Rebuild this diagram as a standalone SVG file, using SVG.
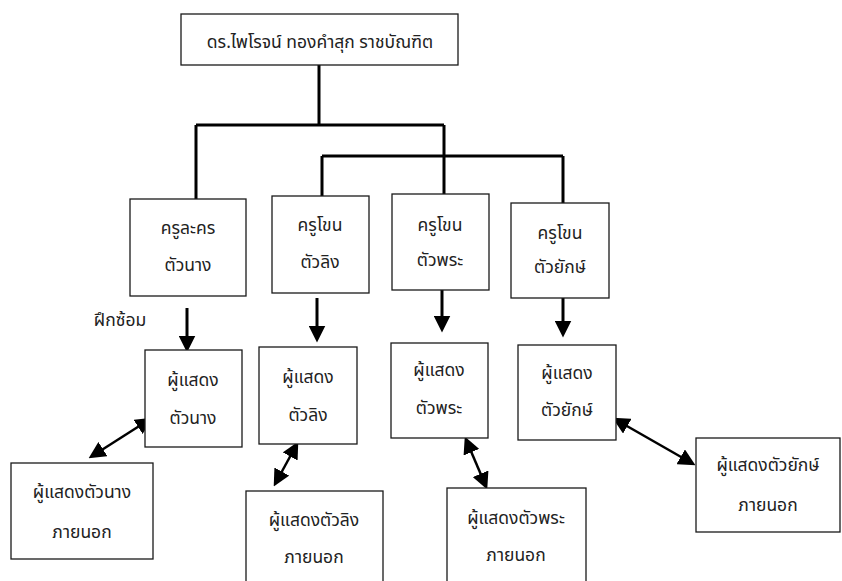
<svg xmlns="http://www.w3.org/2000/svg" width="842" height="581" viewBox="0 0 842 581">
<style>
.box{fill:#fff;stroke:#1a1a1a;stroke-width:1.3}
.t{font-family:"Noto Sans Thai","Noto Sans","DejaVu Sans",sans-serif;font-size:17.5px;fill:#222;text-anchor:middle;dominant-baseline:central}
.thick{fill:none;stroke:#000;stroke-width:3}
.arr{fill:none;stroke:#000;stroke-width:3}
.dbl{fill:none;stroke:#000;stroke-width:2.5}
</style>
<defs>
<marker id="ah" viewBox="0 0 16 16" refX="8" refY="8" markerWidth="17" markerHeight="17" markerUnits="userSpaceOnUse" orient="auto-start-reverse">
<path d="M0,0 L16,8 L0,16 z" fill="#000"/>
</marker>
</defs>
<rect width="842" height="581" fill="#fff"/>
<g id="connectors">
<path class="thick" d="M319,65 V125 M196,125 H444 M196,125 V199 M444,125 V194 M322,156 H563 M322,156 V196 M563,156 V203"/>
<line class="arr" x1="187" y1="308" x2="187" y2="344" marker-end="url(#ah)"/>
<line class="arr" x1="317" y1="298" x2="317" y2="334" marker-end="url(#ah)"/>
<line class="arr" x1="442" y1="288" x2="442" y2="324" marker-end="url(#ah)"/>
<line class="arr" x1="563" y1="293" x2="563" y2="329" marker-end="url(#ah)"/>
<line class="dbl" x1="145.2" y1="422.3" x2="95.8" y2="453.7" marker-start="url(#ah)" marker-end="url(#ah)"/>
<line class="dbl" x1="294.2" y1="449" x2="277.8" y2="479" marker-start="url(#ah)" marker-end="url(#ah)"/>
<line class="dbl" x1="468.1" y1="444.4" x2="483.9" y2="481.6" marker-start="url(#ah)" marker-end="url(#ah)"/>
<line class="dbl" x1="619.9" y1="422" x2="688.1" y2="461" marker-start="url(#ah)" marker-end="url(#ah)"/>
</g>
<g id="n-top"><rect class="box" x="181" y="14" width="277" height="51"/><text class="t" x="320" y="42">ดร.ไพโรจน์ ทองคำสุก ราชบัณฑิต</text></g>
<g id="n-k1"><rect class="box" x="130" y="199" width="116" height="97"/><text class="t" x="188" y="228">ครูละคร</text><text class="t" x="188" y="265">ตัวนาง</text></g>
<g id="n-k2"><rect class="box" x="272" y="196" width="97" height="97"/><text class="t" x="320" y="225">ครูโขน</text><text class="t" x="320" y="262">ตัวลิง</text></g>
<g id="n-k3"><rect class="box" x="392" y="194" width="97" height="96"/><text class="t" x="440" y="225">ครูโขน</text><text class="t" x="440" y="260">ตัวพระ</text></g>
<g id="n-k4"><rect class="box" x="511" y="203" width="98" height="95"/><text class="t" x="560" y="233">ครูโขน</text><text class="t" x="560" y="267">ตัวยักษ์</text></g>
<g id="n-lbl"><text class="t" x="120" y="320">ฝึกซ้อม</text></g>
<g id="n-p1"><rect class="box" x="145" y="350" width="97" height="97"/><text class="t" x="193" y="380">ผู้แสดง</text><text class="t" x="193" y="418">ตัวนาง</text></g>
<g id="n-p2"><rect class="box" x="259" y="347" width="98" height="97"/><text class="t" x="308" y="377">ผู้แสดง</text><text class="t" x="308" y="415">ตัวลิง</text></g>
<g id="n-p3"><rect class="box" x="391" y="343" width="97" height="95"/><text class="t" x="439" y="370">ผู้แสดง</text><text class="t" x="439" y="408">ตัวพระ</text></g>
<g id="n-p4"><rect class="box" x="518" y="345" width="98" height="95"/><text class="t" x="567" y="373">ผู้แสดง</text><text class="t" x="567" y="410">ตัวยักษ์</text></g>
<g id="n-e1"><rect class="box" x="11" y="463" width="142" height="96"/><text class="t" x="82" y="492">ผู้แสดงตัวนาง</text><text class="t" x="82" y="532">ภายนอก</text></g>
<g id="n-e2"><rect class="box" x="246" y="491" width="137" height="100"/><text class="t" x="314" y="520">ผู้แสดงตัวลิง</text><text class="t" x="314" y="557">ภายนอก</text></g>
<g id="n-e3"><rect class="box" x="447" y="488" width="139" height="103"/><text class="t" x="516" y="518">ผู้แสดงตัวพระ</text><text class="t" x="516" y="555">ภายนอก</text></g>
<g id="n-e4"><rect class="box" x="696" y="438" width="144" height="94"/><text class="t" x="768" y="465">ผู้แสดงตัวยักษ์</text><text class="t" x="768" y="505">ภายนอก</text></g>
</svg>
